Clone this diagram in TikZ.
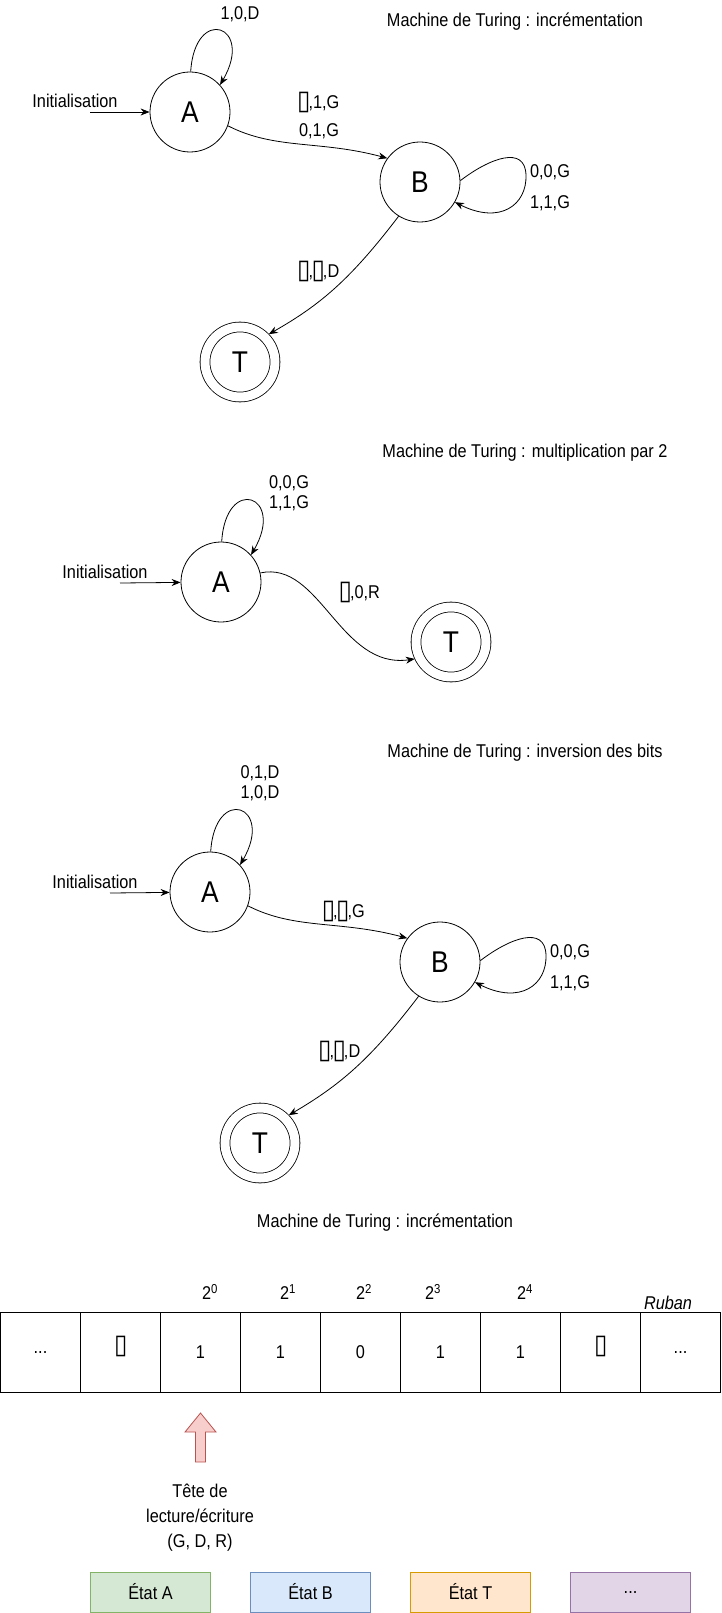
\documentclass[tikz,border=0pt]{standalone}
\usepackage{fontspec}
\setmainfont{Liberation Sans}[FakeStretch=0.88]
\newfontfamily\symfont{DejaVu Sans}[FakeStretch=0.9]
\usetikzlibrary{arrows.meta}
\definecolor{vertfond}{HTML}{D5E8D4}\definecolor{vertbord}{HTML}{82B366}
\definecolor{bleufond}{HTML}{DAE8FC}\definecolor{bleubord}{HTML}{6C8EBF}
\definecolor{orfond}{HTML}{FFE6CC}\definecolor{orbord}{HTML}{D79B00}
\definecolor{violfond}{HTML}{E1D5E7}\definecolor{violbord}{HTML}{9673A6}
\definecolor{rougefond}{HTML}{F8CECC}\definecolor{rougebord}{HTML}{B85450}
\newcommand{\blanc}{\kern-1.5pt\smash{\raisebox{-1pt}{\fontsize{27}{27}\selectfont\symfont ▯}}\kern-2pt}
\newcommand{\suite}{...}
\begin{document}
\begin{tikzpicture}[x=1pt,y=-1pt,>={Stealth[length=9pt,width=7pt]},
    every node/.style={font=\fontsize{18.5}{25}\selectfont,inner sep=0pt},
    etat/.style={draw,circle,minimum size=80pt,line width=0.8pt,
                 font=\fontsize{30}{30}\selectfont},
    etatfinal/.style={etat,minimum size=70pt,double,double distance=9pt,outer sep=5pt},
    fleche/.style={->,line width=0.8pt},
    boucle/.style={align=center,font=\fontsize{18.5}{20}\selectfont},
    case/.style={draw,line width=1pt,minimum width=80pt,minimum height=80pt},
    boite/.style={draw,line width=1pt,minimum width=120pt,minimum height=40pt}]
    \useasboundingbox (0,0) rectangle (721,1613);

    % incrementation
    \node (titre1) at (515,22) {Machine de Turing : incrémentation};
    \node[etat] (a1) at (190,112) {A};
    \node[etat] (b1) at (420,182) {B};
    \node[etatfinal] (t1) at (240,362) {T};
    \coordinate (i1) at (90,112);
    \node (init1) at (75,101) {Initialisation};
    \draw[fleche] (i1) -- (a1);
    \draw[fleche] (a1.89) .. controls +(4,-67) and +(35,-60) .. (a1.42);
    \node (la1) at (240,14) {1,0,D};
    \draw[fleche] (a1.-20) .. controls (275,150) and (320,140) .. (b1.144);
    \node (lab1) at (319,103) {\blanc,1,G};
    \node (lab1b) at (319,131) {0,1,G};
    \draw[fleche] (b1.2) .. controls (490,158) and (525,145) .. (526,175)
        .. controls (527,205) and (500,225) .. (b1.-30);
    \node (lb1) at (550,172) {0,0,G};
    \node (lb1b) at (550,203) {1,1,G};
    \draw[fleche] (b1.238) .. controls (350,280) and (320,305) .. (t1.44);
    \node (lbt1) at (319,272) {\blanc,\blanc,D};

    % multiplication par 2
    \node (titre2) at (525,453) {Machine de Turing : multiplication par 2};
    \node[etat] (a2) at (221,582) {A};
    \node[etatfinal] (t2) at (451,642) {T};
    \coordinate (i2) at (120,583);
    \node (init2) at (105,572) {Initialisation};
    \draw[fleche] (i2) -- (a2);
    \draw[fleche] (a2.89) .. controls +(4,-67) and +(35,-60) .. (a2.42);
    \node[boucle] (la2) at (289,493) {0,0,G\\1,1,G};
    \draw[fleche] (a2.13) .. controls (320,560) and (340,670) .. (t2.205);
    \node (lat2) at (360,593) {\blanc,0,R};

    % inversion des bits
    \node (titre3) at (525,753) {Machine de Turing : inversion des bits};
    \node[etat] (a3) at (210,892) {A};
    \node[etat] (b3) at (440,962) {B};
    \node[etatfinal] (t3) at (260,1143) {T};
    \coordinate (i3) at (110,893);
    \node (init3) at (95,882) {Initialisation};
    \draw[fleche] (i3) -- (a3);
    \draw[fleche] (a3.89) .. controls +(4,-67) and +(35,-60) .. (a3.42);
    \node[boucle] (la3) at (260,783) {0,1,D\\1,0,D};
    \draw[fleche] (a3.-20) .. controls (295,930) and (340,920) .. (b3.144);
    \node (lab3) at (344,912) {\blanc,\blanc,G};
    \draw[fleche] (b3.2) .. controls (510,938) and (545,925) .. (546,955)
        .. controls (547,985) and (520,1005) .. (b3.-30);
    \node (lb3) at (570,952) {0,0,G};
    \node (lb3b) at (570,983) {1,1,G};
    \draw[fleche] (b3.238) .. controls (370,1060) and (340,1085) .. (t3.44);
    \node (lbt3) at (340,1052) {\blanc,\blanc,D};

    % ruban
    \node (titre4) at (385,1223) {Machine de Turing : incrémentation};
    \foreach \v [count=\i] in {\suite,\blanc,1,1,0,1,1,\blanc,\suite}
        \node[case] (c\i) at ({80*\i-39.5},1352) {\v};
    \foreach \x/\k in {210/0,288/1,364/2,433/3,525/4}
        \node (p\k) at (\x,1292) {2\textsuperscript{\k}};
    \node (ruban) at (668,1303) {\itshape Ruban};
    \draw[fill=rougefond,draw=rougebord,line width=0.8pt]
        (195.5,1462) -- (195.5,1432) -- (185,1432) -- (200.5,1413)
        -- (216,1432) -- (205.5,1432) -- (205.5,1462) -- cycle;
    \node[align=center] (tete) at (200,1518) {Tête de\\lecture/écriture\\(G, D, R)};
    \node[boite,fill=vertfond,draw=vertbord] (ea) at (150.5,1592) {État A};
    \node[boite,fill=bleufond,draw=bleubord] (eb) at (310.5,1592) {État B};
    \node[boite,fill=orfond,draw=orbord] (et) at (470.5,1592) {État T};
    \node[boite,fill=violfond,draw=violbord] (ex) at (630.5,1592) {\suite};
\end{tikzpicture}
\end{document}
